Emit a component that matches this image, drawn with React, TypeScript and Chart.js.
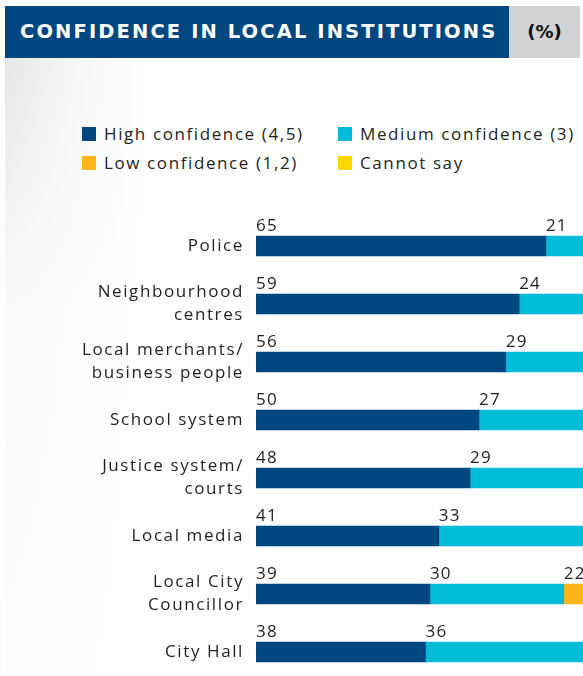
import React, { useEffect, useRef } from "react";
import { Chart, registerables } from "chart.js";

Chart.register(...registerables);

const titleText = "CONFIDENCE IN LOCAL INSTITUTIONS";
const unitText = "(%)";

const categories: (string | string[])[] = [
  "Police",
  ["Neighbourhood", "centres"],
  ["Local merchants/", "business people"],
  "School system",
  ["Justice system/", "courts"],
  "Local media",
  ["Local City", "Councillor"],
  "City Hall",
];

const seriesNames = [
  "High confidence (4,5)",
  "Medium confidence (3)",
  "Low confidence (1,2)",
  "Cannot say",
];
const seriesColors = ["#00467f", "#00bcd9", "#fdb71a", "#ffd600"];

const highValues = [65, 59, 56, 50, 48, 41, 39, 38];
const mediumValues = [21, 24, 29, 27, 29, 33, 30, 36];
const lowValues = [11, 10, 10, 17, 19, 21, 22, 22];
const cannotSayValues = [3, 7, 5, 6, 4, 5, 9, 4];

const FONT = "'Open Sans', 'DejaVu Sans', sans-serif";
const TITLE_FONT = "'DejaVu Sans', 'Open Sans', sans-serif";

const spacingPlugin = {
  id: "letterSpacing",
  beforeDraw(chart: any) {
    (chart.ctx as any).letterSpacing = "1.6px";
  },
};

const valueLabelPlugin = {
  id: "valueLabels",
  afterDatasetsDraw(chart: any) {
    const ctx = chart.ctx;
    ctx.save();
    (ctx as any).letterSpacing = "1.2px";
    ctx.font = `17px ${FONT}`;
    ctx.fillStyle = "#231f20";
    ctx.textAlign = "left";
    ctx.textBaseline = "alphabetic";
    chart.data.datasets.forEach((ds: any, di: number) => {
      const meta = chart.getDatasetMeta(di);
      meta.data.forEach((bar: any, i: number) => {
        const v = ds.data[i];
        if (!v) return;
        const left = Math.min(bar.x, bar.base);
        const top = bar.y - bar.height / 2;
        ctx.fillText(String(v), left, top - 5);
      });
    });
    ctx.restore();
  },
};

export default function App() {
  const canvasRef = useRef<HTMLCanvasElement | null>(null);

  useEffect(() => {
    if (!canvasRef.current) return;
    const datasets = [highValues, mediumValues, lowValues, cannotSayValues].map((d, i) => ({
      label: seriesNames[i],
      data: d,
      backgroundColor: seriesColors[i],
      borderWidth: 0,
      barThickness: 20,
    }));
    const chart = new Chart(canvasRef.current, {
      type: "bar",
      data: { labels: categories, datasets },
      options: {
        indexAxis: "y",
        responsive: false,
        animation: false,
        layout: { padding: { top: 27, left: 0, right: 0, bottom: 0 } },
        plugins: {
          legend: { display: false },
          tooltip: { enabled: false },
        },
        scales: {
          x: {
            stacked: true,
            min: 0,
            max: 100,
            display: false,
          },
          y: {
            stacked: true,
            border: { display: false },
            grid: { display: false, drawTicks: false },
            ticks: {
              color: "#231f20",
              font: { family: FONT, size: 17, lineHeight: 1.35 },
              padding: 12,
            },
            afterFit(scale: any) {
              scale.width = 256;
              scale.paddingTop = 0;
              scale.paddingBottom = 0;
            },
          },
        },
      },
      plugins: [spacingPlugin, valueLabelPlugin],
    });
    return () => chart.destroy();
  }, []);

  const legendItem = (i: number, left: number, top: number) => (
    <div
      key={i}
      style={{
        position: "absolute",
        left,
        top,
        display: "flex",
        alignItems: "center",
        fontFamily: FONT,
        fontSize: 17,
        letterSpacing: "1.6px",
        color: "#231f20",
        whiteSpace: "nowrap",
      }}
    >
      <span
        style={{
          display: "inline-block",
          width: 14,
          height: 14,
          background: seriesColors[i],
          marginRight: 8,
        }}
      />
      {seriesNames[i]}
    </div>
  );

  return (
    <div
      style={{
        position: "fixed",
        left: 0,
        top: 0,
        width: 583,
        height: 676,
        overflow: "hidden",
        background: "#fff",
      }}
    >
      <div
        style={{
          position: "absolute",
          left: 5,
          top: 58,
          width: 578,
          height: 618,
          background:
            "linear-gradient(to bottom, rgba(255,255,255,0) 0px, rgba(255,255,255,0.8) 250px, rgba(255,255,255,0.93) 618px), linear-gradient(to right, #e6e7e8 0px, #f5f6f6 70px, #ffffff 140px)",
        }}
      />
      <div
        style={{
          position: "absolute",
          left: 5,
          top: 6,
          width: 504,
          height: 52,
          background: "#00467f",
          color: "#fff",
          fontFamily: TITLE_FONT,
          fontWeight: 700,
          fontSize: 19.5,
          letterSpacing: "2.1px",
          lineHeight: "52px",
          paddingLeft: 15,
          boxSizing: "border-box",
          whiteSpace: "nowrap",
        }}
      >
        {titleText}
      </div>
      <div
        style={{
          position: "absolute",
          left: 509,
          top: 6,
          width: 71,
          height: 52,
          background: "#d1d3d4",
          color: "#111",
          fontFamily: TITLE_FONT,
          fontWeight: 700,
          fontSize: 18,
          lineHeight: "52px",
          textAlign: "center",
        }}
      >
        {unitText}
      </div>
      {legendItem(0, 82, 122)}
      {legendItem(1, 338, 122)}
      {legendItem(2, 82, 151)}
      {legendItem(3, 338, 151)}
      <canvas
        ref={canvasRef}
        width={702}
        height={491}
        style={{ position: "absolute", left: 0, top: 190, width: 702, height: 491 }}
      />
    </div>
  );
}
